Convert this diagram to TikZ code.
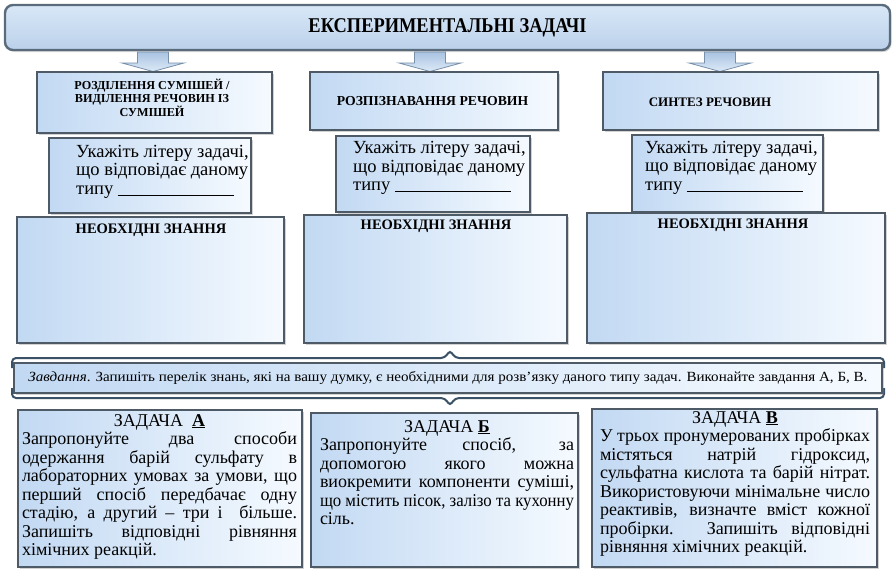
\documentclass[tikz,border=0pt]{standalone}
\usepackage{fontspec}
\setmainfont{Liberation Serif}
\usepackage{graphicx}
\usetikzlibrary{shadows,calc}
\definecolor{bxA}{HTML}{C2D9F3}
\definecolor{bxB}{HTML}{F5FAFF}
\definecolor{bord}{HTML}{4E5B67}
\definecolor{bnA}{HTML}{D8E7F7}
\definecolor{bnB}{HTML}{BBD1EA}
\definecolor{bnbord}{HTML}{5A6B7C}
\definecolor{brc}{HTML}{3B5166}
\definecolor{arA}{HTML}{A9C3E2}
\definecolor{arB}{HTML}{DDEAF7}
\definecolor{arbord}{HTML}{7890A9}
\newcommand\hintfont{\fontsize{18.5}{18.5}\selectfont}
\newcommand\taskfont{\fontsize{18}{18.5}\selectfont}
\newcommand\kfont{\fontsize{14.5}{15}\selectfont\bfseries}
\newsavebox\jlbox
\newcommand\jl[1]{\sbox\jlbox{#1}\ifdim\wd\jlbox>\linewidth\resizebox{\linewidth}{\height}{#1}\else\makebox[\linewidth][s]{#1}\fi\\}
\newcommand\cl[1]{\makebox[\linewidth][c]{#1}\\}
\tikzset{
  box/.style={draw=bord, line width=1.2pt, left color=bxA, right color=bxB,
    drop shadow={shadow xshift=1.5pt, shadow yshift=-1.5pt, opacity=0.35}, inner sep=0pt},
  banner/.style={draw=bnbord, line width=2.4pt, rounded corners=8pt, top color=bnA, bottom color=bnB,
    drop shadow={shadow xshift=1.5pt, shadow yshift=-2pt, opacity=0.3}, inner sep=0pt},
  brace/.style={draw=brc, line width=2pt, rounded corners=4pt},
  hint/.style={inner sep=0pt, align=left, font=\hintfont, anchor=west},
  cat/.style={inner sep=0pt, align=center},
  ktitle/.style={inner sep=0pt, align=center, font=\kfont},
  task/.style={inner sep=0pt, align=justify, font=\taskfont, anchor=north},
  downarrow/.pic={
    \draw[draw=arbord, line width=0.8pt, top color=arA, bottom color=arB]
      (-15.5,0) -- (15.5,0) -- (15.5,11) -- (31,11) -- (0,19.5) -- (-31,11) -- (-15.5,11) -- cycle;
  }
}
\begin{document}
\begin{tikzpicture}[x=1pt,y=-1pt]
\useasboundingbox (0,0) rectangle (895,574);
\fill[white] (0,0) rectangle (895,574);

% title banner
\node[banner, minimum width=885pt, minimum height=45pt] (top) at (447.5,27.5)
  {\resizebox{278pt}{\height}{\fontsize{21}{23}\selectfont\bfseries ЕКСПЕРИМЕНТАЛЬНІ ЗАДАЧІ}};

% arrows
\pic (ar1) at (153,52) {downarrow};
\pic (ar2) at (430,52) {downarrow};
\pic (ar3) at (720,52) {downarrow};

% category boxes
\node[box, minimum width=235pt, minimum height=61pt] (c1) at (154.5,102.5) {};
\node[box, minimum width=248pt, minimum height=58pt] (c2) at (434,101) {};
\node[box, minimum width=275pt, minimum height=58pt] (c3) at (740.5,101) {};
\node[cat, font=\fontsize{12.2}{13.4}\selectfont\bfseries] (c1t) at (152,97.5) {РОЗДІЛЕННЯ СУМІШЕЙ /\\ ВИДІЛЕННЯ РЕЧОВИН ІЗ\\ СУМІШЕЙ};
\node[cat, font=\fontsize{13.7}{14}\selectfont\bfseries] (c2t) at (432.5,101) {РОЗПІЗНАВАННЯ РЕЧОВИН};
\node[cat, font=\fontsize{13}{14}\selectfont\bfseries] (c3t) at (710,102) {СИНТЕЗ РЕЧОВИН};

% hint boxes
\node[box, minimum width=202pt, minimum height=75pt] (h1) at (150,175.5) {};
\node[box, minimum width=194pt, minimum height=76pt] (h2) at (433,174) {};
\node[box, minimum width=191pt, minimum height=77pt] (h3) at (727.5,173.5) {};
\node[hint] (h1t) at (76,171.5) {Укажіть літеру задачі,\\ що відповідає даному\\ типу \rule[-1pt]{116pt}{0.6pt}};
\node[hint] (h2t) at (353,168) {Укажіть літеру задачі,\\ що відповідає даному\\ типу \rule[-1pt]{116pt}{0.6pt}};
\node[hint] (h3t) at (645,167.5) {Укажіть літеру задачі,\\ що відповідає даному\\ типу \rule[-1pt]{116pt}{0.6pt}};

% knowledge boxes
\node[box, minimum width=267pt, minimum height=126pt] (k1) at (150.5,280) {};
\node[box, minimum width=263pt, minimum height=128pt] (k2) at (435.5,279) {};
\node[box, minimum width=298pt, minimum height=130pt] (k3) at (736,278) {};
\node[ktitle] (k1t) at (151,230) {НЕОБХІДНІ ЗНАННЯ};
\node[ktitle] (k2t) at (436,226) {НЕОБХІДНІ ЗНАННЯ};
\node[ktitle] (k3t) at (733,225) {НЕОБХІДНІ ЗНАННЯ};

% task bar with braces
\draw[brace] (12,368) -- (12,358) -- (445,358) -- (450,350) -- (455,358) -- (884,358) -- (884,368);
\draw[brace] (12,388) -- (12,398) -- (445,398) -- (450,406) -- (455,398) -- (884,398) -- (884,388);
\node[box, minimum width=868pt, minimum height=30pt] (bar) at (448,378)
  {\resizebox{839pt}{\height}{\fontsize{14}{16}\selectfont\textit{Завдання}. Запишіть перелік знань, які на вашу думку, є необхідними для розв’язку даного типу задач. Виконайте завдання А, Б, В.}};

% task boxes
\node[box, minimum width=284pt, minimum height=157pt] (tA) at (160,488.5) {};
\node[box, minimum width=267pt, minimum height=154pt] (tB) at (444.5,490) {};
\node[box, minimum width=285pt, minimum height=158pt] (tC) at (734.5,488) {};

\node[task, text width=275pt] (tAt) at (159.5,414) {%
\cl{ЗАДАЧА \ \underline{\textbf{А}}}
\jl{Запропонуйте два способи}
\jl{одержання барій сульфату в}
\jl{лабораторних умовах за умови, що}
\jl{перший спосіб передбачає одну}
\jl{стадію, а другий – три і \ більше.}
\jl{Запишіть відповідні рівняння}
хімічних реакцій.};

\node[task, text width=254pt] (tBt) at (447,420) {%
\cl{ЗАДАЧА \underline{\textbf{Б}}}
\jl{Запропонуйте спосіб, за}
\jl{допомогою якого можна}
\jl{виокремити компоненти суміші,}
\jl{що містить пісок, залізо та кухонну}
сіль.};

\node[task, text width=270pt] (tCt) at (735,411) {%
\cl{ЗАДАЧА \underline{\textbf{В}}}
\jl{У трьох пронумерованих пробірках}
\jl{містяться натрій гідроксид,}
\jl{сульфатна кислота та барій нітрат.}
\jl{Використовуючи мінімальне число}
\jl{реактивів, визначте вміст кожної}
\jl{пробірки. Запишіть відповідні}
рівняння хімічних реакцій.};
\end{tikzpicture}
\end{document}
